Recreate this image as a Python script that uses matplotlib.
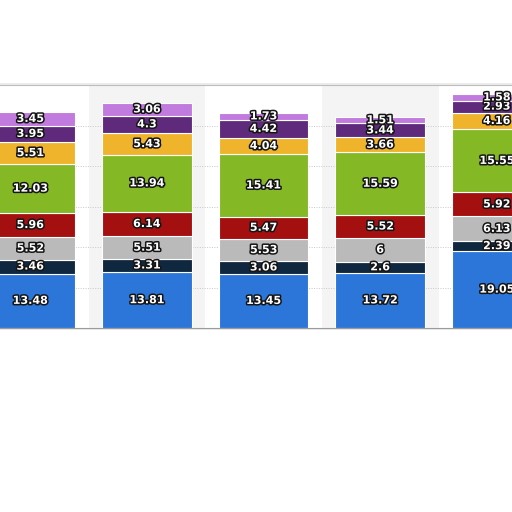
import numpy as np
from matplotlib import pyplot as plt
import matplotlib.patheffects as pe

# Datos (de abajo hacia arriba en cada barra)
categorias = ["A", "B", "C", "D", "E"]
serie_1 = [13.48, 13.81, 13.45, 13.72, 19.05]
serie_2 = [3.46, 3.31, 3.06, 2.6, 2.39]
serie_3 = [5.52, 5.51, 5.53, 6, 6.13]
serie_4 = [5.96, 6.14, 5.47, 5.52, 5.92]
serie_5 = [12.03, 13.94, 15.41, 15.59, 15.55]
serie_6 = [5.51, 5.43, 4.04, 3.66, 4.16]
serie_7 = [3.95, 4.3, 4.42, 3.44, 2.93]
serie_8 = [3.45, 3.06, 1.73, 1.51, 1.58]

series = [serie_1, serie_2, serie_3, serie_4, serie_5, serie_6, serie_7, serie_8]
colores = ["#2b76d8", "#10283f", "#bababa", "#a40f10",
           "#84b925", "#efb42c", "#5f2a7c", "#c17add"]

fig = plt.figure(figsize=(5.12, 5.12), dpi=100)
fig.patch.set_facecolor("white")

# sombra suave del marco
fondo = fig.add_axes([0.0, 0.356, 1.0, 0.481])
fondo.set_facecolor("#ececec")
fondo.set_xticks([])
fondo.set_yticks([])
for s in fondo.spines.values():
    s.set_visible(False)
fondo.set_zorder(0)

ax = fig.add_axes([0.0, 0.359, 1.0, 0.475])
ax.set_zorder(1)
ax.set_facecolor("white")

x = np.arange(len(categorias))

# bandas alternas de fondo
for i in x:
    if i % 2 == 1:
        ax.axvspan(i - 0.5, i + 0.5, color="#f4f4f4", zorder=0, lw=0)

for y in range(10, 60, 10):
    ax.axhline(y, color="#c8c8c8", lw=0.7, ls=(0, (1, 1.5)), zorder=1)

base = np.zeros(len(categorias))
for valores, color in zip(series, colores):
    valores = np.array(valores)
    ax.bar(x, valores, bottom=base, width=0.77, color=color,
           edgecolor="white", linewidth=0.8, zorder=2)
    for xi, b, v in zip(x, base, valores):
        ax.text(xi, b + v / 2, f"{v:g}", ha="center", va="center",
                color="white", fontsize=8, fontweight="bold", zorder=3,
                path_effects=[pe.withStroke(linewidth=2.2, foreground="#151515")])
    base = base + valores

ax.set_xlim(-0.26, 4.13)
ax.set_ylim(0, 60)
ax.set_xticks([])
ax.set_yticks([])
for lado in ["left", "right"]:
    ax.spines[lado].set_visible(False)
ax.spines["top"].set_color("#bdbdbd")
ax.spines["bottom"].set_color("#9a9a9a")

fig.savefig("out.png", dpi=100)
